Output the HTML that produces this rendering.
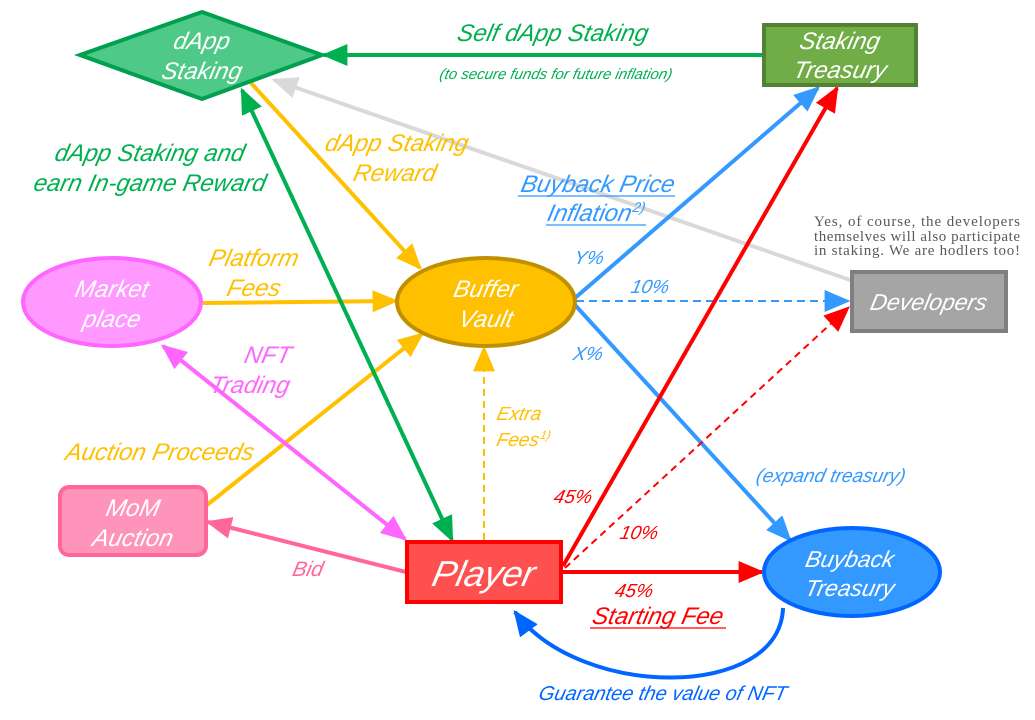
<!DOCTYPE html>
<html><head><meta charset="utf-8"><style>
html,body{margin:0;padding:0;background:#fff;}
svg{display:block;}
text{font-family:"Liberation Sans",sans-serif;font-style:italic;transform-box:fill-box;transform-origin:50% 50%;transform:skewX(-12deg);}
text.n{transform:none;font-style:normal;font-family:"Liberation Serif",serif;}
</style></head><body>
<svg width="1035" height="720" viewBox="0 0 1035 720" xmlns="http://www.w3.org/2000/svg">
<defs>
<marker id="g" viewBox="0 0 10 10" refX="9" refY="5" markerUnits="userSpaceOnUse" markerWidth="26" markerHeight="22" orient="auto-start-reverse" preserveAspectRatio="none"><path d="M0,0L10,5L0,10z" fill="#00b050"/></marker>
<marker id="y" viewBox="0 0 10 10" refX="9" refY="5" markerUnits="userSpaceOnUse" markerWidth="26" markerHeight="22" orient="auto-start-reverse" preserveAspectRatio="none"><path d="M0,0L10,5L0,10z" fill="#ffc000"/></marker>
<marker id="gr" viewBox="0 0 10 10" refX="9" refY="5" markerUnits="userSpaceOnUse" markerWidth="26" markerHeight="22" orient="auto-start-reverse" preserveAspectRatio="none"><path d="M0,0L10,5L0,10z" fill="#d9d9d9"/></marker>
<marker id="p" viewBox="0 0 10 10" refX="9" refY="5" markerUnits="userSpaceOnUse" markerWidth="26" markerHeight="22" orient="auto-start-reverse" preserveAspectRatio="none"><path d="M0,0L10,5L0,10z" fill="#ff66ff"/></marker>
<marker id="pk" viewBox="0 0 10 10" refX="9" refY="5" markerUnits="userSpaceOnUse" markerWidth="26" markerHeight="22" orient="auto-start-reverse" preserveAspectRatio="none"><path d="M0,0L10,5L0,10z" fill="#ff6699"/></marker>
<marker id="b" viewBox="0 0 10 10" refX="9" refY="5" markerUnits="userSpaceOnUse" markerWidth="26" markerHeight="22" orient="auto-start-reverse" preserveAspectRatio="none"><path d="M0,0L10,5L0,10z" fill="#3399ff"/></marker>
<marker id="bd" viewBox="0 0 10 10" refX="9" refY="5" markerUnits="userSpaceOnUse" markerWidth="26" markerHeight="22" orient="auto-start-reverse" preserveAspectRatio="none"><path d="M0,0L10,5L0,10z" fill="#0066ff"/></marker>
<marker id="r" viewBox="0 0 10 10" refX="9" refY="5" markerUnits="userSpaceOnUse" markerWidth="26" markerHeight="22" orient="auto-start-reverse" preserveAspectRatio="none"><path d="M0,0L10,5L0,10z" fill="#ff0000"/></marker>
</defs>

<line x1="763" y1="55" x2="324" y2="55" stroke="#00b050" stroke-width="4" marker-end="url(#g)"/>
<line x1="853" y1="281" x2="274" y2="80" stroke="#d9d9d9" stroke-width="4" marker-end="url(#gr)"/>
<line x1="251" y1="83" x2="420" y2="268" stroke="#ffc000" stroke-width="4" marker-end="url(#y)"/>
<line x1="203" y1="303" x2="396" y2="301" stroke="#ffc000" stroke-width="4" marker-end="url(#y)"/>
<line x1="207" y1="505" x2="422" y2="334" stroke="#ffc000" stroke-width="4" marker-end="url(#y)"/>
<line x1="484" y1="540" x2="484" y2="348" stroke="#ffc000" stroke-width="2" stroke-dasharray="7,5" marker-end="url(#y)"/>
<line x1="163" y1="346" x2="405" y2="539" stroke="#ff66ff" stroke-width="4" marker-start="url(#p)" marker-end="url(#p)"/>
<line x1="406" y1="572" x2="208" y2="522" stroke="#ff6699" stroke-width="4" marker-end="url(#pk)"/>
<line x1="242" y1="90" x2="452" y2="540" stroke="#00b050" stroke-width="4" marker-start="url(#g)" marker-end="url(#g)"/>
<line x1="575" y1="298" x2="818" y2="88" stroke="#3399ff" stroke-width="4" marker-end="url(#b)"/>
<line x1="576" y1="301" x2="848" y2="301" stroke="#3399ff" stroke-width="2" stroke-dasharray="8,5" marker-end="url(#b)"/>
<line x1="575" y1="305" x2="790" y2="540" stroke="#3399ff" stroke-width="4" marker-end="url(#b)"/>
<line x1="563" y1="566" x2="837" y2="88" stroke="#ff0000" stroke-width="4" marker-end="url(#r)"/>
<line x1="565" y1="568" x2="848" y2="308" stroke="#ff0000" stroke-width="2" stroke-dasharray="7,5" marker-end="url(#r)"/>
<line x1="562" y1="572" x2="762" y2="572" stroke="#ff0000" stroke-width="4" marker-end="url(#r)"/>
<path d="M783,608 C780,700 580,700 515,612" fill="none" stroke="#0066ff" stroke-width="4" marker-end="url(#bd)"/>

<polygon points="80,55 202,12 322,55 202,99" fill="#4fc987" stroke="#00a050" stroke-width="4"/>
<text x="202" y="49" font-size="24" fill="#fff" text-anchor="middle">dApp</text>
<text x="202" y="79" font-size="24" fill="#fff" text-anchor="middle">Staking</text>

<rect x="764" y="25" width="152" height="60" fill="#70ad47" stroke="#548235" stroke-width="4"/>
<text x="840" y="49" font-size="24" fill="#fff" text-anchor="middle">Staking</text>
<text x="840" y="78" font-size="24" fill="#fff" text-anchor="middle">Treasury</text>

<ellipse cx="112" cy="302" rx="89" ry="44" fill="#ff99ff" stroke="#ff66ff" stroke-width="4"/>
<text x="112" y="297" font-size="24" fill="#fff" text-anchor="middle">Market</text>
<text x="112" y="327" font-size="24" fill="#fff" text-anchor="middle">place</text>

<ellipse cx="486" cy="302" rx="89" ry="44" fill="#ffc000" stroke="#bf9000" stroke-width="4"/>
<text x="486" y="297" font-size="24" fill="#fff" text-anchor="middle">Buffer</text>
<text x="486" y="327" font-size="24" fill="#fff" text-anchor="middle">Vault</text>

<rect x="852" y="272" width="154" height="59" fill="#a5a5a5" stroke="#7f7f7f" stroke-width="4"/>
<text x="929" y="310" font-size="23" fill="#fff" text-anchor="middle">Developers</text>

<rect x="60" y="487" width="146" height="68" rx="9" fill="#ff94bb" stroke="#ff6699" stroke-width="4"/>
<text x="133" y="516" font-size="24" fill="#fff" text-anchor="middle">MoM</text>
<text x="133" y="546" font-size="24" fill="#fff" text-anchor="middle">Auction</text>

<rect x="407" y="542" width="154" height="60" fill="#ff5050" stroke="#ff0000" stroke-width="4"/>
<text x="484" y="586" font-size="36" fill="#fff" text-anchor="middle">Player</text>

<ellipse cx="852" cy="572" rx="88" ry="44" fill="#3399ff" stroke="#0066ff" stroke-width="4"/>
<text x="850" y="567" font-size="23" fill="#fff" text-anchor="middle">Buyback</text>
<text x="850" y="596" font-size="23" fill="#fff" text-anchor="middle">Treasury</text>

<text x="553" y="41" font-size="24" fill="#00b050" text-anchor="middle">Self dApp Staking</text>
<text x="556" y="79" font-size="15" fill="#00b050" text-anchor="middle">(to secure funds for future inflation)</text>
<text x="150" y="161" font-size="24" fill="#00b050" text-anchor="middle">dApp Staking and</text>
<text x="150" y="191" font-size="24" fill="#00b050" text-anchor="middle">earn In-game Reward</text>
<text x="397" y="151" font-size="24" fill="#ffc000" text-anchor="middle">dApp Staking</text>
<text x="395" y="181" font-size="24" fill="#ffc000" text-anchor="middle">Reward</text>
<text x="254" y="266" font-size="24" fill="#ffc000" text-anchor="middle">Platform</text>
<text x="254" y="296" font-size="24" fill="#ffc000" text-anchor="middle">Fees</text>
<text x="268" y="363" font-size="24" fill="#ff66ff" text-anchor="middle">NFT</text>
<text x="250" y="393" font-size="24" fill="#ff66ff" text-anchor="middle">Trading</text>
<text x="160" y="460" font-size="24" fill="#ffc000" text-anchor="middle">Auction Proceeds</text>
<text x="308" y="576" font-size="21" fill="#ff6699" text-anchor="middle">Bid</text>
<text x="497" y="420" font-size="19" fill="#ffc000">Extra</text>
<text x="497" y="446" font-size="19" fill="#ffc000">Fees<tspan font-size="12" dy="-7">1)</tspan></text>
<text x="598" y="192" font-size="24" fill="#3399ff" text-anchor="middle">Buyback Price</text>
<text x="596" y="221" font-size="24" fill="#3399ff" text-anchor="middle">Inflation<tspan font-size="14" dy="-9">2)</tspan></text>
<line x1="518" y1="196" x2="675" y2="196" stroke="#3399ff" stroke-width="1.2"/>
<line x1="546" y1="225" x2="646" y2="225" stroke="#3399ff" stroke-width="1.2"/>
<text x="589" y="264" font-size="19" fill="#3399ff" text-anchor="middle">Y%</text>
<text x="650" y="293" font-size="19" fill="#3399ff" text-anchor="middle">10%</text>
<text x="588" y="360" font-size="19" fill="#3399ff" text-anchor="middle">X%</text>
<text x="831" y="482" font-size="19" fill="#3399ff" text-anchor="middle">(expand treasury)</text>
<text x="573" y="503" font-size="19" fill="#ff0000" text-anchor="middle">45%</text>
<text x="639" y="539" font-size="19" fill="#ff0000" text-anchor="middle">10%</text>
<text x="634" y="597" font-size="19" fill="#ff0000" text-anchor="middle">45%</text>
<text x="658" y="624" font-size="24" fill="#ff0000" text-anchor="middle">Starting Fee</text>
<line x1="590" y1="628" x2="726" y2="628" stroke="#ff0000" stroke-width="1.2"/>
<text x="663" y="700" font-size="20" fill="#0066ff" text-anchor="middle">Guarantee the value of NFT</text>

<text class="n" x="917" y="226" font-size="15" fill="#595959" text-anchor="middle" textLength="206">Yes, of course, the developers</text>
<text class="n" x="917" y="241" font-size="15" fill="#595959" text-anchor="middle" textLength="206">themselves will also participate</text>
<text class="n" x="917" y="255" font-size="15" fill="#595959" text-anchor="middle" textLength="206">in staking. We are hodlers too!</text>
</svg>
</body></html>
